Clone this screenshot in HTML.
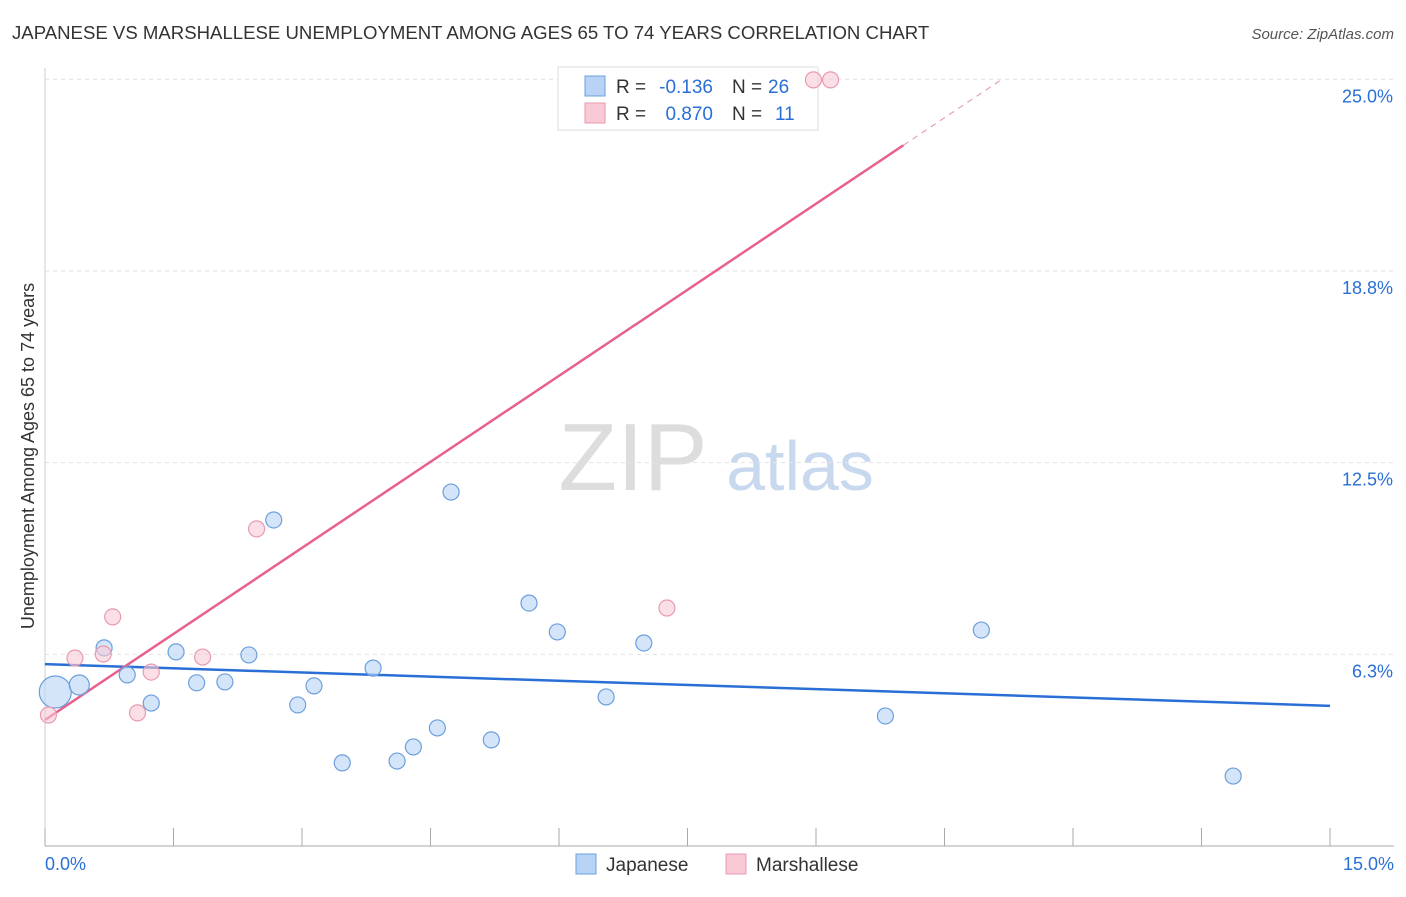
<!DOCTYPE html>
<html><head><meta charset="utf-8"><style>
body{margin:0;background:#fff;font-family:"Liberation Sans",sans-serif}
svg text{font-family:"Liberation Sans",sans-serif}
</style></head><body>
<svg id="chart" width="1406" height="892">
<text x="12" y="39" font-size="18.6" fill="#333">JAPANESE VS MARSHALLESE UNEMPLOYMENT AMONG AGES 65 TO 74 YEARS CORRELATION CHART</text>
<text x="1394" y="39" font-size="15" fill="#555" font-style="italic" text-anchor="end">Source: ZipAtlas.com</text>
<text transform="translate(34,456) rotate(-90)" font-size="18" fill="#333" text-anchor="middle">Unemployment Among Ages 65 to 74 years</text>
<g><text x="633" y="490" font-size="96" fill="#ddd" font-family="Liberation Serif" text-anchor="middle">ZIP</text><text x="800" y="490" font-size="70" fill="#c8d8ee" text-anchor="middle">atlas</text></g>
<g id="grid"></g><g id="axes"></g><g id="lines"></g>
<g>
<rect x="558" y="67" width="260" height="63" fill="#fff" stroke="#ddd"/>
<rect x="585" y="76" width="20" height="20" fill="#b8d3f5" stroke="#6b9fdc"/>
<text x="616" y="93" font-size="19" fill="#333">R =</text><text x="713" y="93" font-size="19" fill="#2a6fd6" text-anchor="end">-0.136</text>
<text x="732" y="93" font-size="19" fill="#333">N =</text><text x="768" y="93" font-size="19" fill="#2a6fd6">26</text>
<rect x="585" y="103" width="20" height="20" fill="#f9c9d6" stroke="#e89ab0"/>
<text x="616" y="120" font-size="19" fill="#333">R =</text><text x="713" y="120" font-size="19" fill="#2a6fd6" text-anchor="end">0.870</text>
<text x="732" y="120" font-size="19" fill="#333">N =</text><text x="775" y="120" font-size="19" fill="#2a6fd6">11</text>
</g>
<g id="pts"></g>
<g>
<rect x="576" y="854" width="20" height="20" fill="#b8d3f5" stroke="#6b9fdc"/>
<text x="606" y="871" font-size="19" fill="#333">Japanese</text>
<rect x="726" y="854" width="20" height="20" fill="#f9c9d6" stroke="#e89ab0"/>
<text x="756" y="871" font-size="19" fill="#333">Marshallese</text>
</g>
</svg>
<script>
const yTicks=[6.25,12.5,18.75,25];
const yTickLabels=["6.3%","12.5%","18.8%","25.0%"];
const xTickLabels=["0.0%","15.0%"];
const japX=[0.12,0.40,0.69,0.96,1.24,1.53,1.77,2.10,2.38,2.67,2.95,3.14,3.47,3.83,4.11,4.30,4.58,4.74,5.21,5.65,5.98,6.55,6.99,9.81,10.93,13.87];
const japY=[5.02,5.25,6.46,5.58,4.66,6.33,5.32,5.35,6.23,10.63,4.60,5.22,2.71,5.80,2.77,3.23,3.85,11.54,3.46,7.92,6.98,4.86,6.62,4.24,7.04,2.28];
const japR=[16,10,8,8,8,8,8,8,8,8,8,8,8,8,8,8,8,8,8,8,8,8,8,8,8,8];
const marX=[0.04,0.35,0.68,0.79,1.08,1.24,1.84,2.47,7.26,8.97,9.17];
const marY=[4.27,6.13,6.26,7.47,4.34,5.67,6.16,10.34,7.76,24.98,24.98];
const japLine=[5.93,4.57];
const marLine=[4.11,1.87];
const X=v=>45+v*1285/15, Y=v=>846-v*30.67;
const NS="http://www.w3.org/2000/svg";
function mk(parent,tag,attrs){const e=document.createElementNS(NS,tag);for(const k in attrs)e.setAttribute(k,attrs[k]);document.getElementById(parent).appendChild(e);return e;}
yTicks.forEach((t,i)=>{
 const l=mk('grid','line',{x1:45,x2:1394,y1:Y(t),y2:Y(t),stroke:'#e2e2e2','stroke-dasharray':'4,4'});
 
 
 const tx=mk('grid','text',{x:1393,y:Y(t)+23,'font-size':18,fill:'#2a6fd6','text-anchor':'end'});tx.textContent=yTickLabels[i];
 
 
});
const ax=mk('axes','line',{x1:45,x2:1394,y1:846,y2:846,stroke:'#aaa'});


const ay=mk('axes','line',{x1:45,x2:45,y1:68,y2:846,stroke:'#ccc'});


for(let i=0;i<=10;i++){const t=mk('axes','line',{x1:X(i*1.5),x2:X(i*1.5),y1:828,y2:846,stroke:'#aaa'});
 
 }
[[0,'start',45],[15,'end',1394]].forEach((d,i)=>{const t=mk('axes','text',{x:d[2],y:870,'font-size':18,fill:'#2a6fd6','text-anchor':d[1]});t.textContent=xTickLabels[i];
 
 });
const bl=mk('lines','line',{x1:X(0),y1:Y(japLine[0]),x2:X(15),y2:Y(japLine[1]),stroke:'#2a6fd6','stroke-width':2.5});


const mf=x=>marLine[0]+marLine[1]*x;
const pl=mk('lines','line',{x1:X(0),y1:Y(mf(0)),x2:X(10.02),y2:Y(mf(10.02)),stroke:'#e8618c','stroke-width':2.5});


const pd=mk('lines','line',{x1:X(10.02),y1:Y(mf(10.02)),x2:X(11.15),y2:Y(mf(11.15)),stroke:'#e8a0b8','stroke-width':1.2,'stroke-dasharray':'6,5'});


japX.forEach((x,i)=>{const c=mk('pts','circle',{cx:X(x),cy:Y(japY[i]),r:japR[i],fill:'#b8d3f5','fill-opacity':0.6,stroke:'#6b9fdc','stroke-width':1.2});
 
 });
marX.forEach((x,i)=>{const c=mk('pts','circle',{cx:X(x),cy:Y(marY[i]),r:8,fill:'#f9c9d6','fill-opacity':0.6,stroke:'#e89ab0','stroke-width':1.2});
 
 });
</script>
</body></html>
